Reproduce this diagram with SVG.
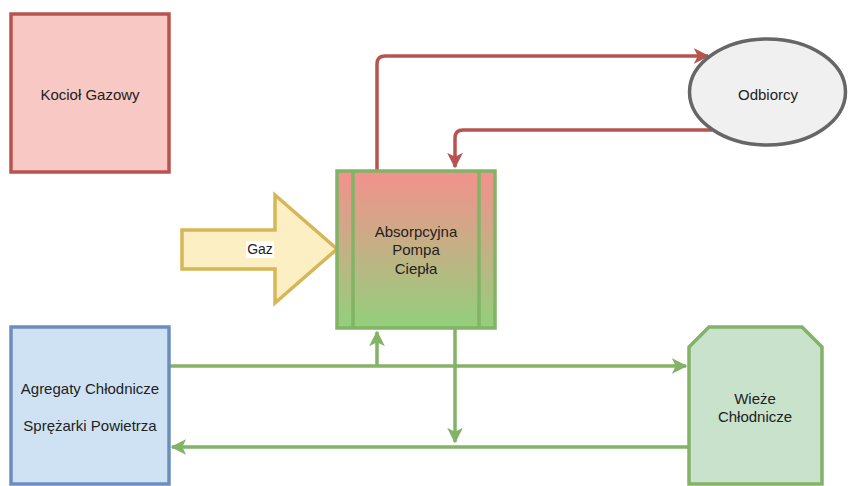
<svg xmlns="http://www.w3.org/2000/svg" width="860" height="486" viewBox="0 0 860 486">
<defs>
<linearGradient id="pg" x1="0" y1="0" x2="0" y2="1">
<stop offset="0" stop-color="#f4918d"/>
<stop offset="1" stop-color="#92d07c"/>
</linearGradient>
<marker id="ar" viewBox="0 0 10 10" refX="9" refY="5" markerWidth="4.5" markerHeight="4.5" orient="auto" markerUnits="strokeWidth">
<path d="M0,0 L10,5 L0,10 L2.5,5 Z" fill="#b85450"/>
</marker>
<marker id="ag" viewBox="0 0 10 10" refX="9" refY="5" markerWidth="4.5" markerHeight="4.5" orient="auto" markerUnits="strokeWidth">
<path d="M0,0 L10,5 L0,10 L2.5,5 Z" fill="#82b366"/>
</marker>
</defs>
<style>
text{font-family:"Liberation Sans",Arial,sans-serif;font-size:15px;fill:#222;text-anchor:middle}
.r{fill:none;stroke:#b85450;stroke-width:3.5;stroke-linejoin:round}
.g{fill:none;stroke:#82b366;stroke-width:3.5;stroke-linejoin:round}
</style>
<rect width="860" height="486" fill="#fff"/>
<g id="connectors">
<path class="r" d="M377,171 V64 Q377,56 385,56 H708" marker-end="url(#ar)"/>
<path class="r" d="M712,130 H463 Q455,130 455,138 V167" marker-end="url(#ar)"/>
<path class="g" d="M169,366 H686" marker-end="url(#ag)"/>
<path class="g" d="M377,366 V332" marker-end="url(#ag)"/>
<path class="g" d="M455,328 V442" marker-end="url(#ag)"/>
<path class="g" d="M689,447 H172" marker-end="url(#ag)"/>
</g>
<g id="kociol">
<rect x="11" y="14" width="158" height="158" fill="#f8c8c4" stroke="#b85450" stroke-width="3.5"/>
<text x="90" y="100">Kocioł Gazowy</text>
</g>
<g id="agregaty">
<rect x="11" y="327" width="158" height="157" fill="#cfe2f3" stroke="#6c8ebf" stroke-width="3.5"/>
<text x="90" y="394">Agregaty Chłodnicze</text>
<text x="90" y="431">Sprężarki Powietrza</text>
</g>
<g id="gaz">
<path d="M182,230 H275 V195 L337,249 L275,303 V269 H182 Z" fill="#fcefc4" stroke="#d6b656" stroke-width="3.5" stroke-linejoin="miter"/>
<rect x="246" y="241" width="28" height="17" fill="#fff"/>
<text x="260" y="254" style="font-size:14px">Gaz</text>
</g>
<g id="pompa">
<rect x="337" y="171" width="158" height="157" fill="url(#pg)" stroke="#82b366" stroke-width="3.5"/>
<line x1="353" y1="171" x2="353" y2="328" stroke="#82b366" stroke-width="3.5"/>
<line x1="479" y1="171" x2="479" y2="328" stroke="#82b366" stroke-width="3.5"/>
<text x="416" y="237">Absorpcyjna</text>
<text x="416" y="255">Pompa</text>
<text x="416" y="274">Ciepła</text>
</g>
<g id="odbiorcy">
<ellipse cx="767.5" cy="92" rx="78" ry="53" fill="#f0f0f0" stroke="#666" stroke-width="3.5"/>
<text x="768" y="100">Odbiorcy</text>
</g>
<g id="wieze">
<path d="M689,347 L709,327 H802 L822,347 V484 H689 Z" fill="#c8e2cc" stroke="#82b366" stroke-width="3.5"/>
<text x="755" y="404">Wieże</text>
<text x="755" y="422">Chłodnicze</text>
</g>
</svg>
